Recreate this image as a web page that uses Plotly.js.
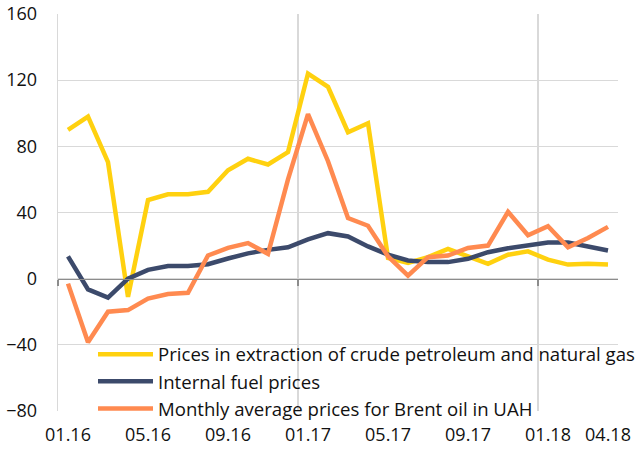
<!DOCTYPE html>
<html>
<head>
<meta charset="utf-8">
<script src="https://cdn.plot.ly/plotly-3.0.1.min.js"></script>
<style>html,body{margin:0;padding:0;background:#fff;}#chart{width:638px;height:450px;}</style>
</head>
<body>
<div id="chart"></div>
<script>
const months = ["01.16","02.16","03.16","04.16","05.16","06.16","07.16","08.16","09.16","10.16","11.16","12.16",
                "01.17","02.17","03.17","04.17","05.17","06.17","07.17","08.17","09.17","10.17","11.17","12.17",
                "01.18","02.18","03.18","04.18"];
const tickLabels = ["01.16","05.16","09.16","01.17","05.17","09.17","01.18","04.18"];

const extraction = [90, 98, 70.5, -11, 47.5, 51, 51, 52.5, 65.5, 72.5, 69, 76.5,
                    124, 116, 88.5, 94, 12.5, 9.5, 13, 18, 13.5, 9, 14.5, 16.5,
                    11.5, 8.5, 9, 8.5];
const internalFuel = [13.5, -6.5, -11.5, 0, 5.3, 7.7, 7.7, 8.7, 12.2, 15.3, 17.4, 19,
                      23.7, 27.5, 25.5, 19.5, 14.5, 11, 10, 10, 12, 16, 18.4, 20.4,
                      21.8, 21.8, 19.4, 17];
const brent = [-3, -38.5, -20, -19, -12, -9.3, -8.5, 14, 18.6, 21.5, 15, 60,
               99.5, 71, 36.6, 32, 13.5, 1.8, 13, 14, 18.6, 20, 40.4, 26.2,
               31.7, 19, 24.6, 31.3];

const seriesNames = ["Prices in extraction of crude petroleum and natural gas",
                     "Internal fuel prices",
                     "Monthly average prices for Brent oil in UAH"];
const colors = ["#FFD10F", "#3C4A6B", "#FF8A50"];

const yMin = -80, yMax = 160;
const yearStarts = months.map((m, i) => m.startsWith("01.") ? i - 0.5 : null).filter(v => v !== null);

const traces = [extraction, internalFuel, brent].map((vals, k) => ({
  type: "scatter", mode: "lines",
  x: months, y: vals, name: seriesNames[k],
  line: {color: colors[k], width: 4.5},
  hoverinfo: "skip"
}));

const font = {family: "Open Sans, sans-serif", size: 18, color: "#111"};

const layout = {
  width: 638, height: 450,
  margin: {l: 58, r: 20, t: 14, b: 39, autoexpand: false},
  paper_bgcolor: "#fff", plot_bgcolor: "#fff",
  font: font,
  showlegend: true,
  legend: {
    x: 0.0625, xanchor: "left", y: 0.19, yanchor: "top",
    bgcolor: "rgba(0,0,0,0)", font: {family: "Open Sans, sans-serif", size: 18.6, color: "#111"},
    itemwidth: 55, tracegroupgap: 0
  },
  xaxis: {
    type: "category", categoryorder: "array", categoryarray: months,
    range: [-0.5, months.length - 0.5],
    tickmode: "array", tickvals: tickLabels, ticktext: tickLabels,
    tickangle: 0, automargin: false,
    showgrid: false, zeroline: false, showline: false, ticks: "",
    ticklabelstandoff: 11
  },
  xaxis2: {
    overlaying: "x", anchor: "free", position: (0 - yMin) / (yMax - yMin),
    range: [-0.5, months.length - 0.5],
    tickmode: "array", tickvals: yearStarts,
    showticklabels: false, showgrid: true, gridcolor: "#d9d9d9", gridwidth: 1.3,
    showline: true, linecolor: "#8c8c8c", linewidth: 1.5,
    ticks: "outside", ticklen: 6, tickcolor: "#8c8c8c", tickwidth: 1.5,
    zeroline: false, automargin: false
  },
  yaxis: {
    range: [yMin, yMax], tickmode: "linear", tick0: 0, dtick: 40,
    showgrid: true, gridcolor: "#d9d9d9", gridwidth: 1.3,
    zeroline: false, showline: true, linecolor: "#d9d9d9", linewidth: 1.3, ticks: "",
    ticklabelstandoff: 16, automargin: false
  }
};

// invisible trace so xaxis2 is drawn
traces.unshift({type: "scatter", mode: "lines", x: [-0.5], y: [0], xaxis: "x2",
  showlegend: false, hoverinfo: "skip", line: {width: 0}, opacity: 0});

Plotly.newPlot("chart", traces, layout, {displayModeBar: false, staticPlot: true});
</script>
</body>
</html>
